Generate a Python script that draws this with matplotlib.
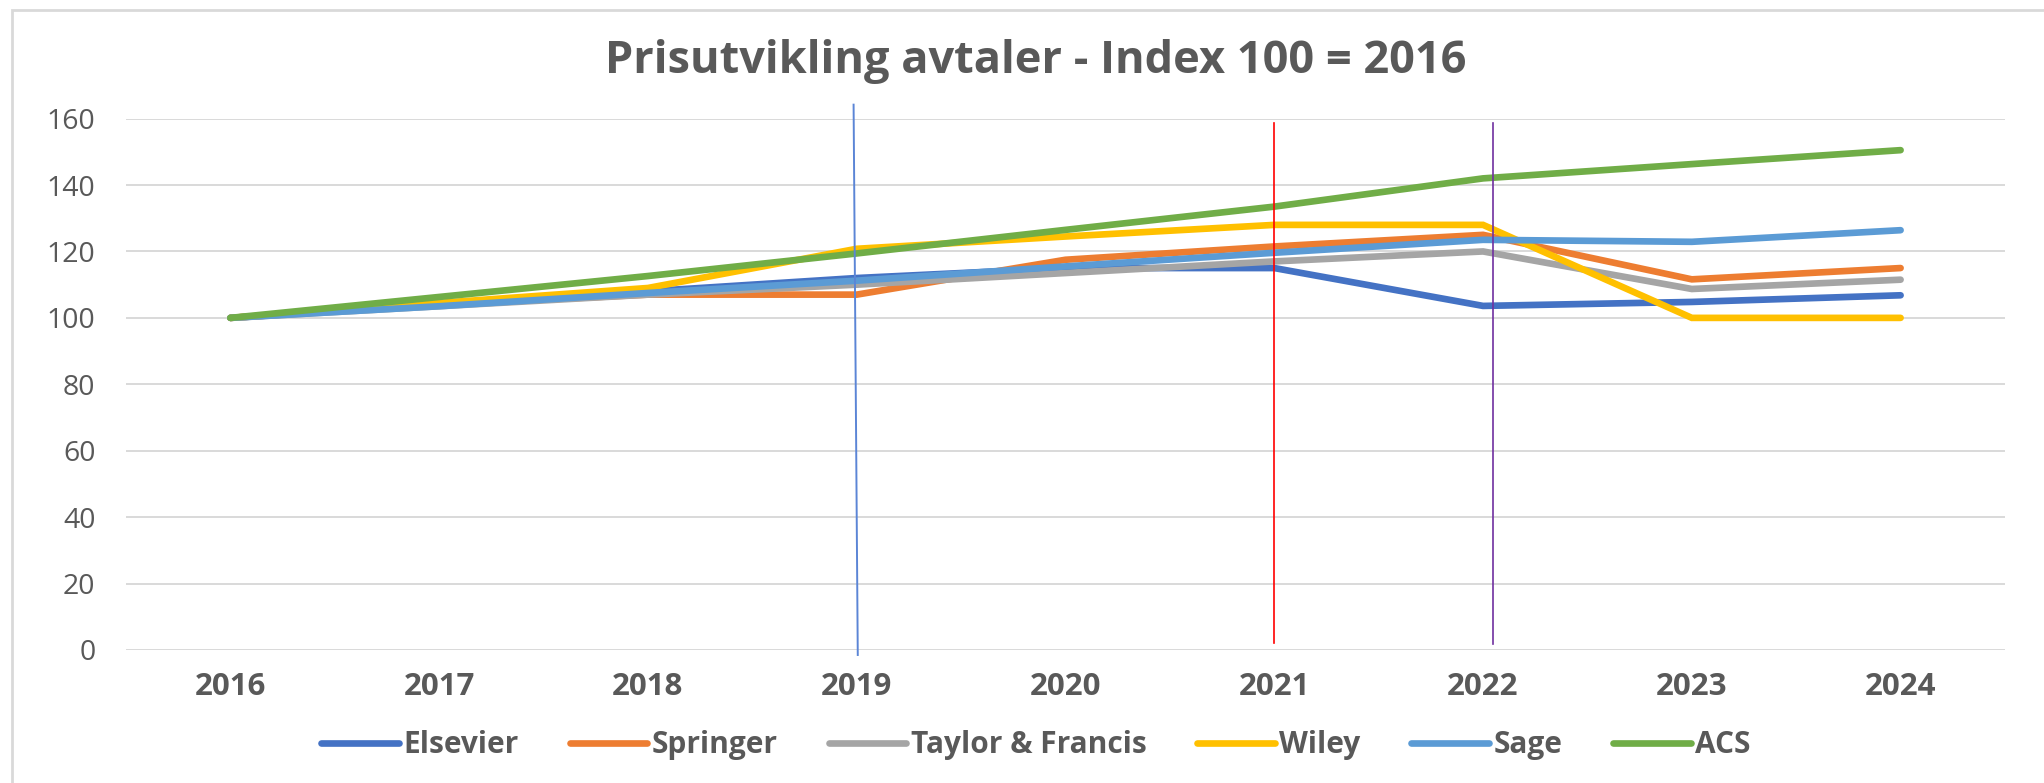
import numpy as np
import matplotlib
matplotlib.use("Agg")
import matplotlib.pyplot as plt
from matplotlib.patches import Rectangle

plt.rcParams['font.family'] = ['Open Sans', 'DejaVu Sans']

years = ['2016', '2017', '2018', '2019', '2020', '2021', '2022', '2023', '2024']

elsevier = [100, 104, 108, 112, 115, 115, 103.6, 104.8, 106.8]
springer = [100, 104, 107, 107, 117.5, 121.5, 125, 111.6, 115]
taylor_francis = [100, 103.5, 107, 110, 113.5, 117, 120, 108.7, 111.5]
wiley = [100, 104.5, 109, 120.8, 124.5, 128, 128, 100, 100]
sage = [100, 103.5, 107.5, 111.2, 115.5, 119.6, 123.5, 122.9, 126.4]
acs = [100, 106.3, 112.6, 119.4, 126.5, 133.5, 142, 146.3, 150.5]

series = [
    ('Elsevier', elsevier, '#4472C4'),
    ('Springer', springer, '#ED7D31'),
    ('Taylor & Francis', taylor_francis, '#A5A5A5'),
    ('Wiley', wiley, '#FFC000'),
    ('Sage', sage, '#5B9BD5'),
    ('ACS', acs, '#70AD47'),
]

# hand drawn marker lines (category position, value) top -> bottom
marker_lines = [
    ((2.985, 3.005), (164.2, -1.5), '#5B85D6', 1.4),
    ((5.0, 5.0), (158.7, 2.0), '#FF0000', 1.2),
    ((6.05, 6.05), (158.7, 1.8), '#7030A0', 1.2),
]

TXT = '#595959'

fig = plt.figure(figsize=(20.44, 7.83), dpi=100)
ax = fig.add_axes([126 / 2044, 1 - 650 / 783, (2005 - 126) / 2044, (650 - 118.6) / 783])

x = np.arange(len(years))
for name, vals, col in series:
    ax.plot(x, vals, color=col, lw=4.8, label=name, solid_capstyle='round',
            solid_joinstyle='miter', zorder=3)

for xs, ys, col, lw in marker_lines:
    ax.plot(xs, ys, color=col, lw=lw, zorder=5, clip_on=False)

ax.set_xlim(-0.5, len(years) - 0.5)
ax.set_ylim(0, 160)
ax.set_yticks(np.arange(0, 161, 20))
ax.set_xticks(x)
ax.set_xticklabels(years, fontsize=22.5, fontweight='bold', color=TXT)
ax.tick_params(axis='y', length=0, pad=22, labelsize=20.5, labelcolor=TXT)
ax.tick_params(axis='x', length=0, pad=16, labelcolor=TXT)
ax.grid(axis='y', color='#D9D9D9', lw=1.4, zorder=0)
ax.set_axisbelow(True)
for s in ax.spines.values():
    s.set_visible(False)

fig.text(1036 / 2044, 1 - 73 / 783, 'Prisutvikling avtaler - Index 100 = 2016',
         ha='center', va='baseline', fontsize=32.5, fontweight='bold', color=TXT)

leg = fig.legend(loc='center', bbox_to_anchor=(1036 / 2044, 1 - 745 / 783), ncol=6,
                 frameon=False, handlelength=2.6, handletextpad=0.15,
                 columnspacing=1.7, prop={'weight': 'bold', 'size': 21.5})
for t in leg.get_texts():
    t.set_color(TXT)

fig.add_artist(Rectangle((12 / 2044, -0.05), 1.2, 1 - 10 / 783 + 0.05,
                         transform=fig.transFigure, fill=False,
                         edgecolor='#D9D9D9', lw=2))

fig.savefig('out.png', dpi=100, facecolor='white')
